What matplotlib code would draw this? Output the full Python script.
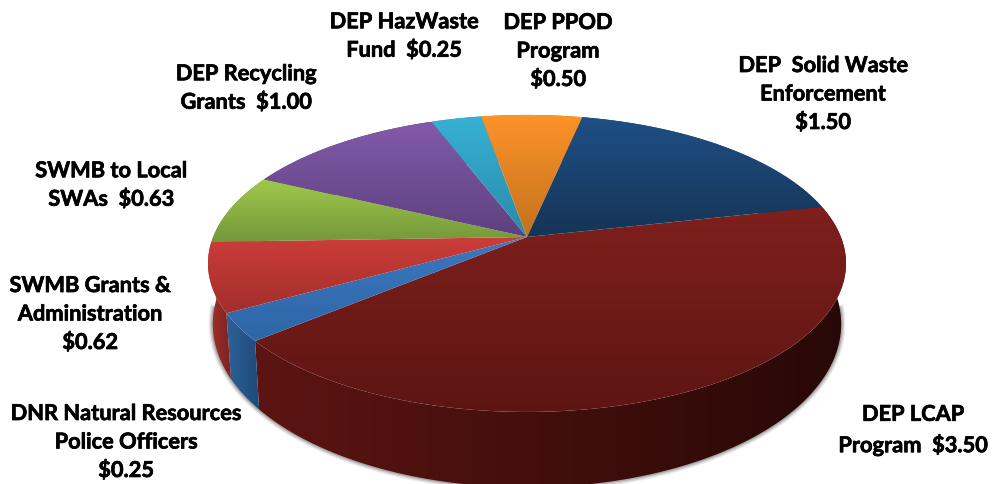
import matplotlib
matplotlib.use('Agg')
import matplotlib.pyplot as plt
import matplotlib.patheffects as pe
from matplotlib.colors import to_rgb
from matplotlib.patches import Polygon
import numpy as np

plt.rcParams['font.family'] = ['Lato', 'DejaVu Sans']

labels = ['DEP LCAP\nProgram  $3.50',
          'DNR Natural Resources\nPolice Officers\n$0.25',
          'SWMB Grants &\nAdministration\n$0.62',
          'SWMB to Local\nSWAs  $0.63',
          'DEP Recycling\nGrants  $1.00',
          'DEP HazWaste\nFund  $0.25',
          'DEP PPOD\nProgram\n$0.50',
          'DEP  Solid Waste\nEnforcement\n$1.50']
values = [3.50, 0.25, 0.62, 0.63, 1.00, 0.25, 0.50, 1.50]

# colours of the top face, upper and lower end of the gradient
top_light = ['#7f201d', '#3c78c0', '#cc3d39', '#a0c84b', '#825aaa', '#37b1d6', '#fd932a', '#1f4f85']
top_dark = ['#5d1513', '#2e66a6', '#a32e2c', '#75983a', '#5e4180', '#2a8aa8', '#c4711d', '#153456']
# colours of the side wall, left and right end
wall_left = ['#5c1512', '#2d6199', '#a8302e', '#75983a', '#5e4180', '#2a8aa8', '#c4711d', '#153456']
wall_right = ['#280806', '#1f4a78', '#7a2320', '#75983a', '#5e4180', '#2a8aa8', '#c4711d', '#153456']

label_x = [913, 126, 90, 111, 246, 404, 558, 823]
label_y = [430, 442, 314, 185, 88, 36, 51, 94]

start_angle = 12.6

# projection of the pie disc onto the picture, in pixels
cx, cy = 527, 237
a, b, k = 313.9, 143.8, 0.178
wall_scale, wall_y, wall_stretch = 0.985, 295, 1.1


def project_top(t):
    u, v = np.cos(t), np.sin(t)
    w = 1 + k * v
    return cx + a * u / w, cy - b * v / w


def project_bottom(t):
    u, v = np.cos(t), np.sin(t)
    w = 1 + k * v
    return cx + wall_scale * a * u / w, wall_y - wall_stretch * b * v / w


def gradient_fill(ax, xs, ys, c1, c2, horizontal=False):
    poly = Polygon(np.column_stack([xs, ys]), closed=True, fc='none', ec='none')
    ax.add_patch(poly)
    ramp = np.linspace(to_rgb(c1), to_rgb(c2), 64)
    img = ramp[np.newaxis, :, :] if horizontal else ramp[:, np.newaxis, :]
    im = ax.imshow(img, extent=[xs.min(), xs.max(), ys.max(), ys.min()],
                   aspect='auto', interpolation='bilinear')
    im.set_clip_path(poly)


fig = plt.figure(figsize=(9.95, 4.84), dpi=100)
ax = fig.add_axes([0, 0, 1, 1])

edges = np.radians(start_angle - np.cumsum([0] + values) / sum(values) * 360)

# soft shadow under the wall
t = np.radians(np.linspace(185, 355, 300))
sx, sy = project_bottom(t)
for lw, alpha in [(6, 0.12), (4, 0.2), (2, 0.3)]:
    ax.plot(sx, sy, color='#555555', lw=lw, alpha=alpha, zorder=-1)

for i in range(len(values)):
    t = np.linspace(edges[i], edges[i + 1], 120)
    x1, y1 = project_top(t)
    x2, y2 = project_bottom(t[::-1])
    gradient_fill(ax, np.r_[x1, x2], np.r_[y1, y2], wall_left[i], wall_right[i], horizontal=True)

for i in range(len(values)):
    t = np.linspace(edges[i], edges[i + 1], 120)
    x1, y1 = project_top(t)
    gradient_fill(ax, np.r_[cx, x1], np.r_[cy, y1], top_light[i], top_dark[i])

for i in range(len(values)):
    ax.text(label_x[i], label_y[i], labels[i], ha='center', va='center', fontsize=15.7,
            fontweight='bold', color='black', linespacing=1.44,
            path_effects=[pe.withStroke(linewidth=0.5, foreground='black')])

ax.set_xlim(0, 995)
ax.set_ylim(484, 0)
ax.axis('off')

fig.savefig('out.png', dpi=100)
